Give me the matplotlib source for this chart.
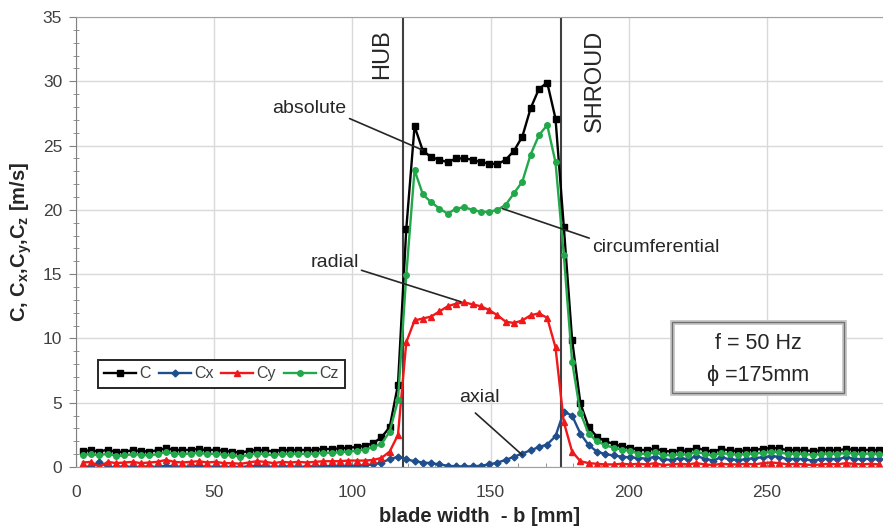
import numpy as np
import matplotlib
matplotlib.use('Agg')
import matplotlib.pyplot as plt
from matplotlib.patches import Rectangle
from matplotlib.ticker import MultipleLocator

plt.rcParams['font.family'] = ['Liberation Sans', 'DejaVu Sans']
plt.rcParams['mathtext.fontset'] = 'custom'
plt.rcParams['mathtext.rm'] = 'Liberation Sans'
plt.rcParams['mathtext.bf'] = 'Liberation Sans:bold'
plt.rcParams['mathtext.it'] = 'Liberation Sans:italic'

# measuring positions across the blade width [mm], 3 mm step
blade_width = np.arange(2.5, 291, 3)

# absolute velocity C [m/s]
c_abs = [1.25, 1.3, 1.2, 1.35, 1.15, 1.2, 1.3, 1.25, 1.2, 1.3, 1.45, 1.35, 1.3, 1.35, 1.4, 1.3, 1.35,
         1.25, 1.2, 1.1, 1.25, 1.35, 1.3, 1.2, 1.35, 1.3, 1.35, 1.3, 1.35, 1.4, 1.4, 1.45, 1.5,
         1.55, 1.65, 1.85, 2.3, 3.1, 6.4, 18.5, 26.5, 24.6, 24.1, 23.9, 23.7, 24.0, 24.0, 23.9,
         23.7, 23.6, 23.55, 23.9, 24.6, 25.7, 27.9, 29.4, 29.9, 27.1, 18.7, 9.9, 4.95, 3.1, 2.35,
         2.0, 1.8, 1.6, 1.5,
         1.35, 1.3, 1.45, 1.25, 1.2, 1.3, 1.25, 1.5, 1.3, 1.2, 1.4, 1.3, 1.25, 1.3, 1.35, 1.4,
         1.5, 1.45, 1.3, 1.35, 1.3, 1.25, 1.3, 1.35, 1.3, 1.4, 1.35, 1.3, 1.35, 1.3]

# axial component Cx
c_x = [0.0, 0.05, 0.4, 0.0, 0.0, 0.05, 0.0, 0.0, 0.05, 0.0, 0.1, 0.05, 0.0, 0.05, 0.1, 0.0, 0.05,
       0.0, 0.0, 0.0, 0.05, 0.1, 0.05, 0.0, 0.05, 0.05, 0.0, 0.05, 0.05, 0.05, 0.1, 0.1, 0.1,
       0.1, 0.15, 0.2, 0.35, 0.6, 0.8, 0.6, 0.45, 0.35, 0.3, 0.2, 0.1, 0.05, 0.05, 0.05, 0.1,
       0.2, 0.35, 0.55, 0.8, 1.05, 1.3, 1.55, 1.75, 2.4, 4.3, 4.0, 2.6, 1.7, 1.2, 1.0, 0.9,
       0.8, 0.75,
       0.7, 0.65, 0.8, 0.6, 0.55, 0.7, 0.6, 0.85, 0.65, 0.5, 0.75, 0.6, 0.55, 0.6, 0.7, 0.75,
       0.85, 0.8, 0.6, 0.65, 0.6, 0.5, 0.6, 0.65, 0.6, 0.75, 0.65, 0.6, 0.65, 0.6]

# radial component Cy
c_y = [0.35, 0.4, 0.0, 0.4, 0.3, 0.35, 0.4, 0.3, 0.35, 0.4, 0.55, 0.4, 0.35, 0.4, 0.45, 0.35, 0.4,
       0.3, 0.3, 0.25, 0.35, 0.45, 0.4, 0.3, 0.4, 0.35, 0.4, 0.35, 0.4, 0.45, 0.45, 0.45, 0.5,
       0.5, 0.5, 0.55, 0.7, 1.2, 2.5, 9.7, 11.4, 11.55, 11.7, 12.1, 12.5, 12.7, 12.8, 12.65,
       12.5, 12.2, 11.8, 11.3, 11.2, 11.4, 11.8, 11.95, 11.6, 9.3, 3.5, 1.2, 0.45, 0.3, 0.25,
       0.2, 0.2, 0.25, 0.2,
       0.25, 0.2, 0.3, 0.15, 0.2, 0.25, 0.2, 0.3, 0.2, 0.15, 0.25, 0.2, 0.2, 0.25, 0.2, 0.3,
       0.35, 0.3, 0.2, 0.25, 0.2, 0.15, 0.2, 0.25, 0.2, 0.3, 0.25, 0.2, 0.25, 0.2]

# circumferential component Cz
c_z = [0.95, 1.0, 0.9, 1.05, 0.85, 0.9, 1.0, 0.95, 0.9, 1.0, 1.15, 1.05, 1.0, 1.05, 1.1, 1.0, 1.05,
       0.95, 0.9, 0.8, 0.95, 1.05, 1.0, 0.9, 1.05, 1.0, 1.05, 1.0, 1.05, 1.1, 1.1, 1.15, 1.2,
       1.25, 1.35, 1.55, 1.8, 2.75, 5.2, 14.9, 23.1, 21.2, 20.6, 20.1, 19.7, 20.1, 20.2, 20.0,
       19.85, 19.85, 20.0, 20.4, 21.3, 22.2, 24.3, 25.8, 26.6, 23.7, 16.5, 8.2, 4.2, 2.6, 2.0,
       1.7, 1.5, 1.35, 1.25,
       1.05, 1.0, 1.15, 0.95, 0.9, 1.0, 0.95, 1.2, 1.0, 0.9, 1.1, 1.0, 0.95, 1.0, 1.05, 1.1,
       1.2, 1.15, 1.0, 1.05, 1.0, 0.95, 1.0, 1.05, 1.0, 1.1, 1.05, 1.0, 1.05, 1.0]

hub_pos = 118.4
shroud_pos = 175.5

C_BLACK = '#000000'
C_BLUE = '#1F4E8C'
C_RED = '#F01818'
C_GREEN = '#22A84A'
C_TEXT = '#262626'

fig = plt.figure(figsize=(8.83, 5.30), dpi=100)
ax = fig.add_axes([76 / 883, 63 / 530, 807 / 883, 450 / 530])

ax.plot(blade_width, c_abs, color=C_BLACK, lw=1.7, marker='s', ms=4, label='C')
ax.plot(blade_width, c_x, color=C_BLUE, lw=1.7, marker='D', ms=3.5, label='Cx')
ax.plot(blade_width, c_y, color=C_RED, lw=1.7, marker='^', ms=4.5, label='Cy')
ax.plot(blade_width, c_z, color=C_GREEN, lw=1.7, marker='o', ms=4, label='Cz')

ax.axvline(hub_pos, color='#404040', lw=1.5, zorder=1)
ax.axvline(shroud_pos, color='#404040', lw=1.5, zorder=1)

ax.set_xlim(0, 292)
ax.set_ylim(0, 35)
ax.xaxis.set_major_locator(MultipleLocator(50))
ax.xaxis.set_minor_locator(MultipleLocator(10))
ax.yaxis.set_major_locator(MultipleLocator(5))
ax.yaxis.set_minor_locator(MultipleLocator(1))
ax.grid(which='major', color='#d9d9d9', lw=1)
ax.set_axisbelow(True)
ax.tick_params(axis='both', which='major', labelsize=12.5, labelcolor='#404040', color='#808080')
ax.tick_params(axis='y', which='major', direction='out', length=5, pad=5)
ax.tick_params(axis='y', which='minor', direction='inout', length=4, color='#808080')
ax.tick_params(axis='x', which='major', direction='in', length=4, pad=13)
ax.tick_params(axis='x', which='minor', direction='in', length=3, color='#808080')
for s in ['left', 'bottom', 'top']:
    ax.spines[s].set_color('#a0a0a0')
ax.spines['left'].set_color('#808080')
ax.spines['right'].set_visible(False)

ax.set_ylabel(r'C, C$_\mathbf{x}$,C$_\mathbf{y}$,C$_\mathbf{z}$ [m/s]',
              fontsize=14.5, fontweight='bold', color=C_TEXT)
ax.yaxis.set_label_coords(-42 / 807, 0.50)
ax.set_xlabel('blade width  - b [mm]', fontsize=14.5, fontweight='bold', color=C_TEXT)
ax.xaxis.set_label_coords(0.5, -0.09)

# HUB / SHROUD labels
ax.text(110.9, 32.1, 'HUB', rotation=90, ha='center', va='center', fontsize=17, color=C_TEXT)
ax.text(187.8, 30.0, 'SHROUD', rotation=90, ha='center', va='center', fontsize=17, color=C_TEXT)

# component labels with leader lines
leader = dict(arrowstyle='-', color='#262626', lw=1.2, shrinkA=0, shrinkB=0)
ax.text(84.2, 27.9, 'absolute', fontsize=14, color=C_TEXT, ha='center', va='center')
ax.annotate('', xy=(125.4, 24.65), xytext=(99, 27.1), arrowprops=leader)
ax.text(186.8, 17.1, 'circumferential', fontsize=14, color=C_TEXT, ha='left', va='center')
ax.annotate('', xy=(154.3, 20.1), xytext=(185.7, 17.8), arrowprops=leader)
ax.text(93.6, 15.9, 'radial', fontsize=14, color=C_TEXT, ha='center', va='center')
ax.annotate('', xy=(139.3, 12.85), xytext=(103.3, 15.3), arrowprops=leader)
ax.text(146, 5.4, 'axial', fontsize=14, color=C_TEXT, ha='center', va='center')
ax.annotate('', xy=(161.5, 0.93), xytext=(144.5, 4.2), arrowprops=leader)

# info box
ax.add_patch(Rectangle((215.7, 5.75), 62.1, 5.53, fc='white', ec='#c8c8c8', lw=3.5, zorder=5))
ax.add_patch(Rectangle((215.7, 5.75), 62.1, 5.53, fc='none', ec='#707070', lw=1.0, zorder=6))
ax.text(246.8, 9.6, 'f = 50 Hz', ha='center', va='center', fontsize=15.5, color=C_TEXT, zorder=7)
ax.text(246.8, 7.15, '\u03d5 =175mm', ha='center', va='center', fontsize=15.5, color=C_TEXT,
        zorder=7)

leg = ax.legend(loc='upper left', bbox_to_anchor=(0.027, 0.238), borderaxespad=0, ncol=4,
                fontsize=11.5, frameon=True, fancybox=False, edgecolor='#262626', framealpha=1,
                handlelength=2.0, columnspacing=0.5, handletextpad=0.2, borderpad=0.4)
leg.get_frame().set_linewidth(1.4)
for t in leg.get_texts():
    t.set_color('#404040')

fig.savefig('out.png', dpi=100)
